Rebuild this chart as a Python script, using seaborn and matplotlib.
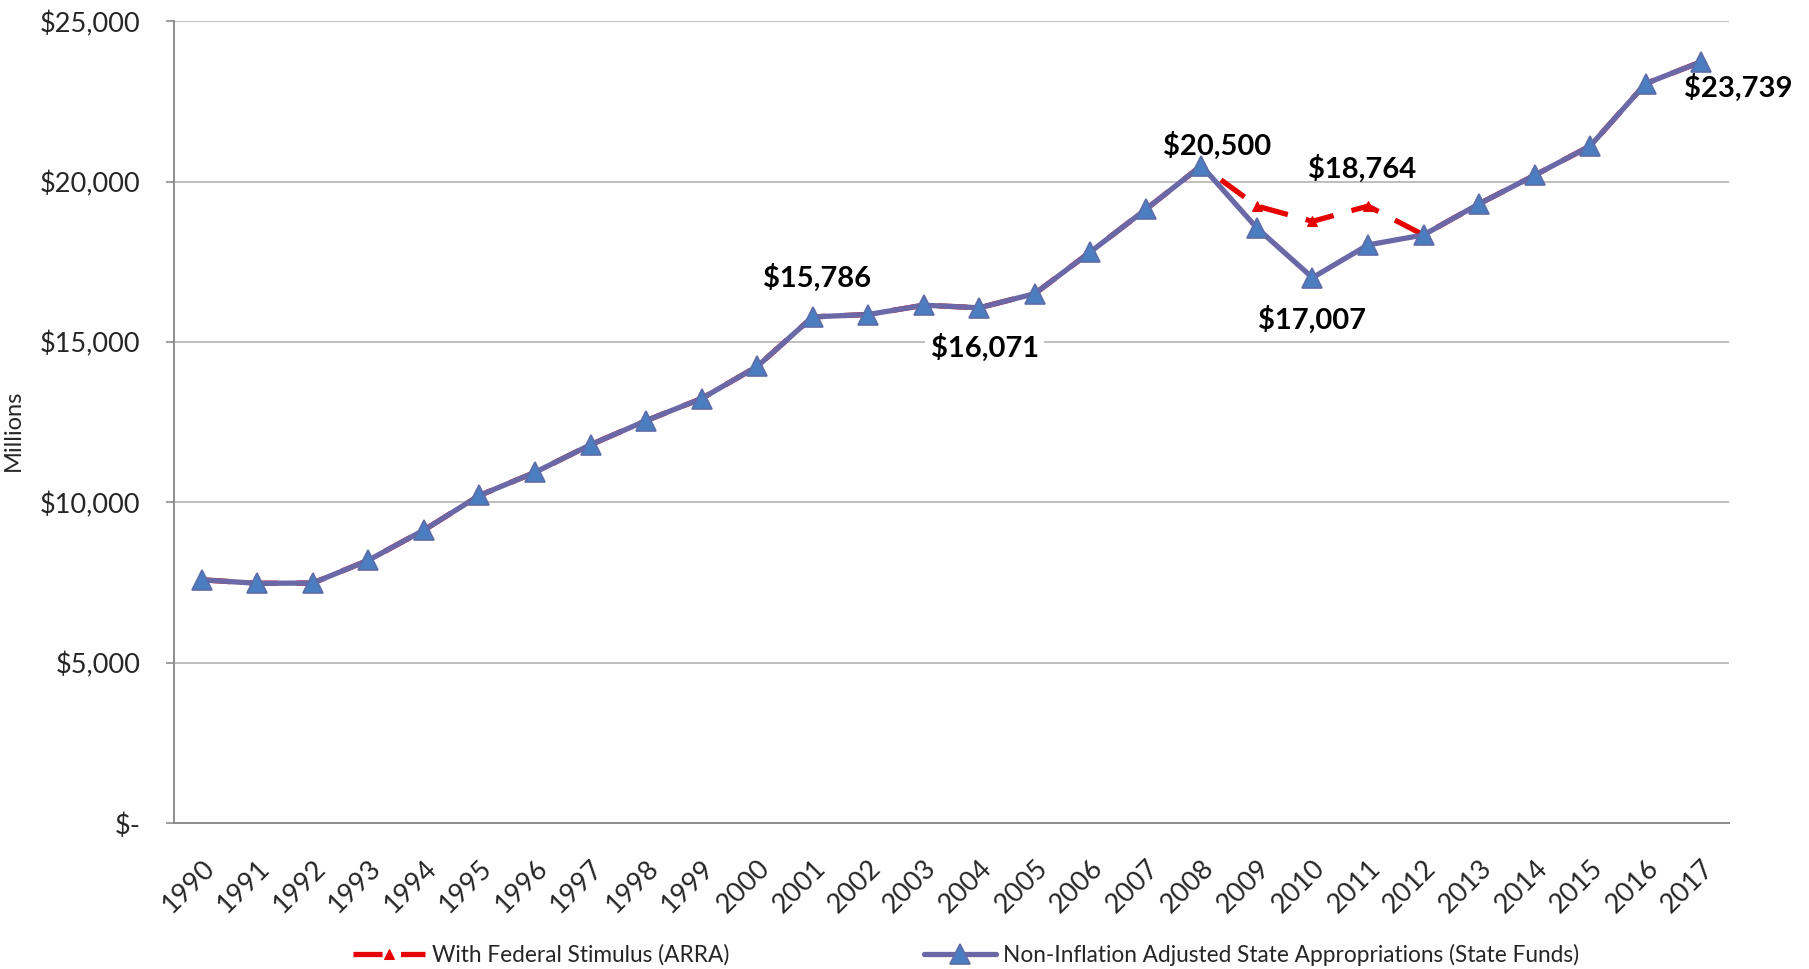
import matplotlib
matplotlib.use("Agg")
import matplotlib.pyplot as plt
import numpy as np
import pandas as pd
import seaborn as sns
from matplotlib.ticker import FuncFormatter, FixedLocator

# Values (millions of dollars)
years = list(range(1990, 2018))
state_funds = [7590, 7480, 7490, 8200, 9140, 10220, 10940, 11800, 12550, 13240,
               14240, 15786, 15860, 16150, 16071, 16510, 17810, 19140, 20500, 18556,
               17007, 18030, 18340, 19310, 20200, 21113, 23060, 23739]
with_stimulus = [7590, 7480, 7490, 8200, 9140, 10220, 10940, 11800, 12550, 13240,
                 14240, 15786, 15860, 16150, 16071, 16510, 17810, 19140, 20500, 19240,
                 18764, 19240, 18340, 19310, 20200, 21113, 23060, 23739]

label_stim = "With Federal Stimulus (ARRA)"
label_state = "Non-Inflation Adjusted State Appropriations (State Funds)"

# (year, series, offset in points, white box)
callouts = [
    (2001, "state", (3, 28), False),
    (2004, "state", (4, -29), True),
    (2008, "state", (11, 14), False),
    (2010, "stim", (36, 38), False),
    (2010, "state", (0, -30), True),
    (2017, "state", (27, -19), False),
]

df = pd.DataFrame({"year": years, "state": state_funds, "stim": with_stimulus})

sns.set_style("white")
plt.rcParams["font.family"] = ["Lato", "DejaVu Sans"]

fig = plt.figure(figsize=(18.09, 9.69), dpi=100)
ax = fig.add_axes([174 / 1809, 1 - 823.3 / 969, (1729 - 174) / 1809, (823.3 - 21.3) / 969])

grid_color = "#BFBFBF"
axis_color = "#8C8C8C"
for v in range(5000, 25001, 5000):
    ax.axhline(v, color=grid_color, lw=1.4, zorder=0)

sns.lineplot(data=df, x="year", y="stim", ax=ax, color="#E60000", lw=3.8,
             dashes=False, marker="^", markersize=7, markeredgecolor="#E60000",
             label=label_stim, zorder=2)
ax.lines[-1].set_dashes([5.5, 3.5])

sns.lineplot(data=df, x="year", y="state", ax=ax, color="#6A68A6", lw=3.8,
             marker="^", markersize=14, markerfacecolor="#4A7EC0",
             markeredgecolor="#5E6CA8", markeredgewidth=1.2,
             label=label_state, zorder=3)

for yr, series, off, boxed in callouts:
    val = df.loc[df["year"] == yr, series].iloc[0]
    bbox = dict(facecolor="white", edgecolor="none", pad=4) if boxed else None
    ax.annotate(f"${val:,.0f}", xy=(yr, val), xytext=off, textcoords="offset points",
                ha="center", va="center", fontsize=21, fontweight="bold",
                color="black", bbox=bbox, zorder=5, annotation_clip=False)

ax.set_xlim(1989.5, 2017.5)
ax.set_ylim(0, 25000)
ax.set_yticks(range(0, 25001, 5000))
ax.yaxis.set_major_formatter(FuncFormatter(lambda v, p: "$-" if v == 0 else f"${v:,.0f}"))
ax.set_xticks(years)
ax.set_xticklabels([str(y) for y in years], rotation=45, ha="right",
                   rotation_mode="anchor", fontsize=19.5)
ax.xaxis.set_minor_locator(FixedLocator(np.arange(1989.5, 2018, 1.0)))
ax.tick_params(axis="x", which="major", length=0, pad=23)
ax.tick_params(axis="x", which="minor", length=6.5, color=axis_color, width=1.2)
ax.tick_params(axis="y", which="major", length=6, color=axis_color, width=1.2,
               labelsize=19.5, pad=18, left=True)

ax.set_xlabel("")
ax.set_ylabel("Millions", fontsize=17)
ax.yaxis.set_label_coords(-(174 - 24) / (1729 - 174), 0.49)

for side in ["top", "right"]:
    ax.spines[side].set_visible(False)
for side in ["left", "bottom"]:
    ax.spines[side].set_color(axis_color)
    ax.spines[side].set_linewidth(1.4)

ax.get_legend().remove()
handles, labels = ax.get_legend_handles_labels()
fig.legend(handles, labels, loc="center", bbox_to_anchor=(0.534, 0.015), ncol=2,
           frameon=False, fontsize=16.3, handlelength=3.2, handletextpad=0.3,
           columnspacing=8.6, borderpad=0)

fig.savefig("out.png", dpi=100)
